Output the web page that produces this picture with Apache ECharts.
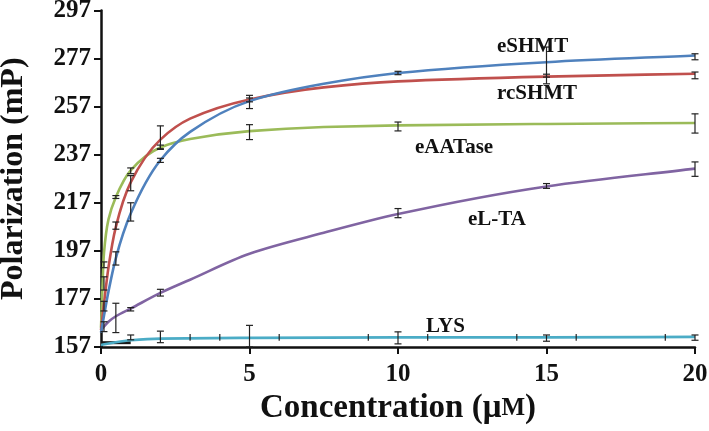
<!DOCTYPE html>
<html><head><meta charset="utf-8">
<script src="https://cdn.jsdelivr.net/npm/echarts@6/dist/echarts.min.js"></script>
<style>html,body{margin:0;padding:0;background:#fff}#c{width:709px;height:431px}</style>
</head><body><div id="c"></div>
<script>
// ---- data ----
const xTicks = [0, 5, 10, 15, 20];
const yTicks = [157, 177, 197, 217, 237, 257, 277, 297];

const eSHMT  = [[0,163],[0.1,170],[0.25,180],[0.5,194],[1,212.5],[2,234.7],[3,246.5],[5,259.3],[7.5,266.5],[10,271],[15,275.5],[20,278.3]];
const rcSHMT = [[0,164],[0.1,175],[0.25,190],[0.5,207],[1,225.5],[2,243.3],[3,252],[5,260],[7.5,265],[10,267.5],[15,269.5],[20,270.7]];
const eAATase= [[0,165],[0.1,196],[0.25,210],[0.5,219.4],[1,230.5],[2,240],[3,243.5],[5,246.8],[7.5,248.5],[10,249.2],[15,249.8],[20,250.2]];
const eLTA   = [[0,164],[0.25,167.5],[0.5,169.8],[1,173],[2,179.5],[3,185],[5,195.8],[7.5,204.5],[10,212.3],[15,223.8],[20,231.2]];
const LYS    = [[0,157.8],[0.5,159],[1,159.8],[2,160.5],[5,160.8],[10,161],[15,161],[20,161.2]];
const blank  = [[0,158.8],[0.5,158.8],[1,158.8]];

// error bars: [x, low, high]
const errESHMT  = [[0.1,172,176],[0.5,191.1,196.6],[1,209.4,217],[2,233.8,235.5],[5,256.2,261.7],[10,270.3,271.7],[15,266.5,281.8],[20,276.5,279]];
const errRcSHMT = [[0.1,180.7,186.2],[0.5,206,209],[1,222,228.3],[2,239.2,249],[5,259,260.6],[15,269.3,270.5],[20,268.6,271.4]];
const errEAAT   = [[0.1,190,192.4],[0.5,218.8,220],[1,229.1,231.5],[2,239.5,241],[5,243.3,249.5],[10,246.9,250.6],[20,246,254]];
const errELTA   = [[0.1,163.4,167.5],[0.5,163,175.2],[1,172,173.4],[2,178.2,181],[10,210.8,214.6],[15,223,225],[20,228,234]];
const errLYS    = [[1,160,162],[2,158.8,163.6],[5,157,166],[10,158.3,163.3],[15,159.4,162],[20,159.8,162]];
const tickLYS   = [[3,159.6,162.4],[4,159.6,162.4],[6,159.6,162.4],[9,159.6,162.4],[11,159.6,162.4],[14,159.6,162.4],[16,159.6,162.4],[19,159.6,162.4]];

const colors = {eSHMT:'#4f81bd', rcSHMT:'#c0504d', eAATase:'#9bbb59', eLTA:'#8064a2', LYS:'#4bacc6', blank:'#1a1a1a'};

const serif = '"Liberation Serif","Times New Roman",serif';

// smooth monotone cubic drawn through the data points (pixel space via api.coord)
function curveSeries(name, data, color, width, z) {
  return {type:'custom', name, data, z: z||2, silent:true,
    renderItem(params, api) {
      if (params.dataIndex !== 0) return null;
      const p = data.map(d => api.coord(d));
      const n = p.length, h = [], dl = [], m = [];
      for (let i = 0; i < n-1; i++) { h[i] = p[i+1][0]-p[i][0]; dl[i] = (p[i+1][1]-p[i][1])/h[i]; }
      m[0] = dl[0]; m[n-1] = dl[n-2];
      for (let i = 1; i < n-1; i++) {
        if (dl[i-1]*dl[i] <= 0) m[i] = 0;
        else m[i] = 3*(h[i-1]+h[i]) / ((2*h[i]+h[i-1])/dl[i-1] + (h[i]+2*h[i-1])/dl[i]);
      }
      let d = 'M' + p[0][0] + ' ' + p[0][1];
      for (let i = 0; i < n-1; i++) {
        const c1x = p[i][0]+h[i]/3, c1y = p[i][1]+m[i]*h[i]/3;
        const c2x = p[i+1][0]-h[i]/3, c2y = p[i+1][1]-m[i+1]*h[i]/3;
        d += ' C' + c1x + ' ' + c1y + ' ' + c2x + ' ' + c2y + ' ' + p[i+1][0] + ' ' + p[i+1][1];
      }
      return {type:'path', shape:{pathData:d}, style:{stroke:color, lineWidth:width, fill:null}};
    }};
}
function errSeries(data, cap) {
  return {type:'custom', data, z:5, silent:true,
    renderItem(params, api) {
      const x = api.value(0);
      const lo = api.coord([x, api.value(1)]);
      const hi = api.coord([x, api.value(2)]);
      const s = {stroke:'#222', lineWidth:1.2};
      const children = [{type:'line', shape:{x1:lo[0],y1:lo[1],x2:hi[0],y2:hi[1]}, style:s}];
      if (cap > 0) {
        children.push({type:'line', shape:{x1:lo[0]-cap,y1:lo[1],x2:lo[0]+cap,y2:lo[1]}, style:s});
        children.push({type:'line', shape:{x1:hi[0]-cap,y1:hi[1],x2:hi[0]+cap,y2:hi[1]}, style:s});
      }
      return {type:'group', children};
    }};
}

const chart = echarts.init(document.getElementById('c'));
const labelStyle = {fontFamily: serif, fontWeight:'bold', fontSize:21, fill:'#111'};
chart.setOption({
  animation:false,
  grid:{left:101, right:14, top:10.5, bottom:84, containLabel:false, outerBoundsMode:'none'},
  xAxis:{type:'value', min:xTicks[0], max:xTicks[xTicks.length-1], interval:5,
    name:'Concentration (μ{s|M})', nameLocation:'middle', nameGap:44,
    nameTextStyle:{fontFamily:serif, fontWeight:'bold', fontSize:33, color:'#111',
      rich:{s:{fontFamily:serif, fontWeight:'bold', fontSize:25, color:'#111'}}},
    axisLine:{lineStyle:{color:'#111', width:2.5}},
    axisTick:{length:7, lineStyle:{color:'#111', width:2}},
    axisLabel:{fontFamily:serif, fontWeight:'bold', fontSize:25, color:'#111', margin:15},
    splitLine:{show:false}},
  yAxis:{type:'value', min:yTicks[0], max:yTicks[yTicks.length-1], interval:20,
    name:'Polarization (mP)', nameLocation:'middle', nameGap:71, nameRotate:90,
    nameTextStyle:{fontFamily:serif, fontWeight:'bold', fontSize:32, color:'#111'},
    axisLine:{show:true, lineStyle:{color:'#111', width:2.5}},
    axisTick:{show:true, length:7, lineStyle:{color:'#111', width:2}},
    axisLabel:{fontFamily:serif, fontWeight:'bold', fontSize:25, color:'#111', margin:10},
    splitLine:{show:false}},
  series:[
    curveSeries('blank', blank, colors.blank, 3, 1),
    curveSeries('LYS', LYS, colors.LYS, 2.6, 3),
    curveSeries('eL-TA', eLTA, colors.eLTA, 2.6),
    curveSeries('eAATase', eAATase, colors.eAATase, 2.6),
    curveSeries('rcSHMT', rcSHMT, colors.rcSHMT, 2.6),
    curveSeries('eSHMT', eSHMT, colors.eSHMT, 2.6),
    errSeries(errESHMT, 3.5), errSeries(errRcSHMT, 3.5), errSeries(errEAAT, 3.5),
    errSeries(errELTA, 3.5), errSeries(errLYS, 3.5), errSeries(tickLYS, 0)
  ],
  graphic:[
    {type:'text', left:497, top:36, style:Object.assign({text:'eSHMT'}, labelStyle), z:10},
    {type:'text', left:497, top:83, style:Object.assign({text:'rcSHMT'}, labelStyle), z:10},
    {type:'text', left:415, top:137, style:Object.assign({text:'eAATase'}, labelStyle), z:10},
    {type:'text', left:468, top:209, style:Object.assign({text:'eL-TA'}, labelStyle), z:10},
    {type:'text', left:426, top:316, style:Object.assign({text:'LYS'}, labelStyle), z:10}
  ]
});
</script></body></html>
